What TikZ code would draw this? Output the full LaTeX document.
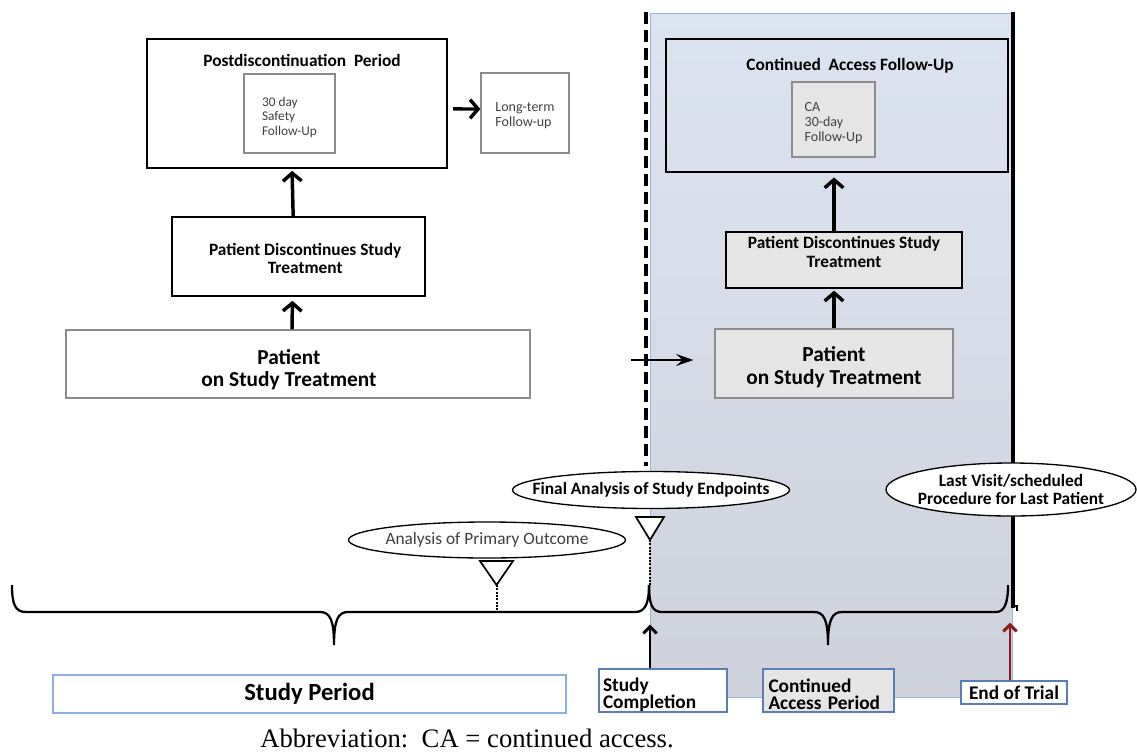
\documentclass[tikz,border=0pt]{standalone}
\usepackage{fontspec}
\setmainfont{Carlito}
\newfontfamily\abbrfont{Liberation Serif}
\usepackage{tikz}
\usetikzlibrary{arrows.meta,shapes.geometric}
\definecolor{edgegray}{HTML}{8C8C8C}
\definecolor{textgray}{HTML}{404040}
\definecolor{framebl}{HTML}{5B7DB5}
\definecolor{lightbl}{HTML}{8DB0E0}
\definecolor{areatop}{HTML}{DCE3F1}
\definecolor{areamid}{HTML}{C4D3EB}
\definecolor{areabot}{HTML}{CFD2DC}
\definecolor{areaedge}{HTML}{9DB3D8}
\definecolor{eotred}{HTML}{8B1A1A}
\newcommand{\fs}[2]{\fontsize{#1}{#2}\selectfont}
\newcommand{\lift}[1]{\rule{0pt}{#1}}

\begin{document}
\begin{tikzpicture}[x=0.75pt,y=-0.75pt,
  blk/.style={draw=black,line width=1.2pt,inner sep=0pt},
  gry/.style={draw=edgegray,line width=1pt,inner sep=0pt},
  shd/.style={fill=black!10},
  oval/.style={ellipse,draw=black,line width=1pt,fill=white,inner xsep=-25pt,inner ysep=-12pt},
  lbl/.style={line width=1.1pt,inner sep=0pt,fill=white},
  thickarr/.style={line width=2.6pt,-{Straight Barb[length=6pt,width=14pt]}},
  smallarr/.style={line width=2.2pt,-{Straight Barb[length=5pt,width=10pt]}},
  brace/.style={line width=1.7pt}]
  \useasboundingbox (0,0) rectangle (1137,753);

  % continued access area
  \shade[top color=areatop,middle color=areamid,bottom color=areabot] (650,13) rectangle (1012,697);
  \draw[areaedge,line width=0.6pt] (650,13) rectangle (1012,697);
  \draw[line width=2.6pt,dash pattern=on 9pt off 4.5pt] (646,12) -- (646,466);
  \draw[line width=2.4pt] (1013,12) -- (1013,608);
  \draw[line width=1pt] (1013,606) -- (1017,606) -- (1017,611);

  % study period side
  \node[blk,minimum width=225pt,minimum height=96.75pt] (LA) at (297,103.5) {};
  \node[font=\fs{13}{15}\bfseries] (LAt) at (302,60) {Postdiscontinuation\ \ Period};
  \node[gry,minimum width=68.25pt,minimum height=59.25pt,align=left,text=textgray,font=\fs{10}{11}] (LAi) at (289.5,113.5) {\lift{12.5pt}30 day\\Safety\\Follow-Up};
  \node[gry,minimum width=66pt,minimum height=60pt,align=left,text=textgray,font=\fs{10.5}{11.5}] (LT) at (525,113) {\lift{11pt}Long-term\\Follow-up};
  \node[blk,minimum width=189.75pt,minimum height=59.25pt,align=center,font=\fs{13}{14}\bfseries] (LB) at (298.5,256.5) {\lift{12pt}\hspace*{10pt}Patient Discontinues Study\\\hspace*{10pt}Treatment};
  \node[gry,minimum width=348pt,minimum height=51pt,align=center,font=\fs{16}{17}\bfseries] (LC) at (298,364) {\lift{20pt}Patient\hspace*{13.5pt}\\on Study Treatment\hspace*{13.5pt}};

  \draw[thickarr,shorten >=3pt] ([xshift=-4.5pt]LC.north) -- ([xshift=-4.5pt]LB.south);
  \draw[thickarr,shorten >=1.5pt] ([xshift=-4pt]LB.north) -- ([xshift=-3.75pt]LA.south);
  \draw[thickarr,shorten <=4pt] ([yshift=-4.1pt]LA.east) -- ([yshift=3pt]LT.west);

  % continued access side
  \node[blk,minimum width=256.5pt,minimum height=99.75pt] (RA) at (837,105.5) {};
  \node[font=\fs{13}{15}\bfseries] (RAt) at (850,66) {Continued\ \ Access Follow-Up};
  \node[gry,shd,minimum width=62.25pt,minimum height=56.25pt,align=left,text=textgray,font=\fs{10.5}{11.2}] (RAi) at (833.5,119.5) {\lift{12pt}CA\\30-day\\Follow-Up};
  \node[blk,shd,line width=1pt,minimum width=177pt,minimum height=42pt,align=center,font=\fs{13}{14}\bfseries] (RB) at (844,260) {Patient Discontinues Study\\Treatment\\[-2pt]};
  \node[gry,shd,minimum width=178.5pt,minimum height=51.75pt,align=center,font=\fs{16}{17}\bfseries] (RC) at (834,363.5) {\lift{17pt}Patient\\on Study Treatment};

  \draw[thickarr,shorten >=1.5pt] (RC.north) -- (RC.north |- RB.south);
  \draw[thickarr,shorten >=3.5pt] (RC.north |- RB.north) -- (RC.north |- RA.south);
  \coordinate (HS) at (631,360);
  \draw[line width=1.8pt,-{Stealth[length=13pt,width=9pt,inset=5pt]},shorten >=15.75pt] (HS) -- (RC.west |- HS);

  % analysis markers
  \node[oval,minimum width=207.75pt,minimum height=27pt,text=textgray,font=\fs{13}{15}] (EA) at (487,540) {Analysis of Primary Outcome};
  \node[oval,minimum width=207.75pt,minimum height=27.75pt,font=\fs{13}{15}\bfseries] (EB) at (651,490) {Final Analysis of Study Endpoints};
  \node[oval,minimum width=187.5pt,minimum height=39.75pt,align=center,font=\fs{13}{13.5}\bfseries] (EC) at (1011,489.5) {Last Visit/scheduled\\Procedure for Last Patient};

  \draw[line width=1.3pt,fill=white] (480,561) -- (513,561) -- (496.5,585) -- cycle;
  \draw[line width=1.5pt,densely dotted] (496.5,585) -- (496.5,612);
  \draw[line width=1.3pt,fill=white] (636,517) -- (664,517) -- (650,540) -- cycle;
  \draw[line width=1.5pt,densely dotted] (650,540) -- (650,585);

  % braces
  \draw[brace] (12,585) .. controls (12,604) and (15,612) .. (26,612) -- (320,612)
    .. controls (330,612) and (334,620) .. (334,645) .. controls (334,620) and (338,612) .. (348,612)
    -- (635,612) .. controls (645,612) and (649,604) .. (649,585);
  \draw[brace] (649,585) .. controls (649,604) and (652,612) .. (662,612) -- (814,612)
    .. controls (824,612) and (828,620) .. (828,645) .. controls (828,620) and (832,612) .. (842,612)
    -- (996,612) .. controls (1004,612) and (1008,604) .. (1008,585);
  \coordinate (CU) at (650,612);
  \coordinate (EO) at (1010,612);

  % period labels
  \node[lbl,draw=lightbl,line width=1.4pt,minimum width=384.75pt,minimum height=28.5pt,font=\fs{18.5}{20}\bfseries] (SP) at (309.5,694) {Study Period};
  \node[lbl,draw=framebl,minimum width=96pt,minimum height=32.25pt,align=left,text width=90pt,font=\fs{14.5}{13}\bfseries] (SC) at (663,690.5) {\lift{17pt}Study\\Completion};
  \node[lbl,draw=framebl,fill=black!10,minimum width=98.25pt,minimum height=32.25pt,align=left,text width=90pt,font=\fs{14.5}{13}\bfseries] (CP) at (828.5,690.5) {\lift{16pt}Continued\\Access Period};
  \node[lbl,draw=framebl,minimum width=79.5pt,minimum height=17.25pt,font=\fs{14.5}{15}\bfseries] (ET) at (1014,692.5) {End of Trial};

  \draw[smallarr,shorten >=9.5pt] (SC.north -| CU) -- (CU);
  \draw[smallarr,eotred,shorten >=8pt] (ET.north -| EO) -- (EO);

  \node[font=\abbrfont\fs{20}{22}] (AB) at (467,738) {Abbreviation:\ \ CA = continued access.};
\end{tikzpicture}
\end{document}
